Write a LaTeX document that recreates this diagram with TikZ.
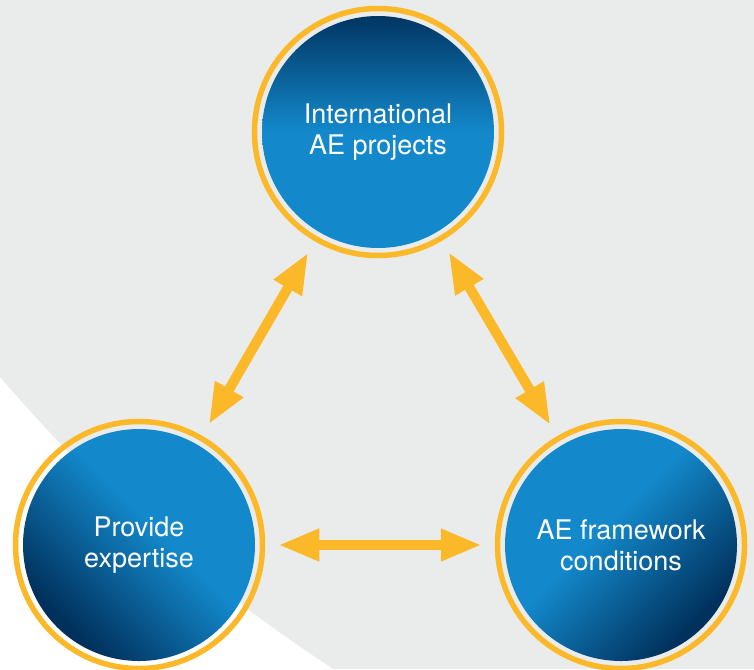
\documentclass[tikz,border=0pt]{standalone}
\usepackage{fontspec}
\setmainfont{TeX Gyre Heros}
\usetikzlibrary{arrows.meta}
\definecolor{bggray}{HTML}{EAECEB}
\definecolor{ringorange}{HTML}{FBB829}
\definecolor{brightblue}{HTML}{1389CB}
\definecolor{darkblue}{HTML}{00305C}
\pgfdeclareverticalshading{discshade}{100bp}{color(0bp)=(brightblue); color(50bp)=(brightblue); color(75bp)=(darkblue); color(100bp)=(darkblue)}
\pgfdeclareverticalshading{diagshade}{100bp}{color(0bp)=(brightblue); color(45bp)=(brightblue); color(72bp)=(darkblue); color(100bp)=(darkblue)}
\tikzset{
  hub/.style={circle, minimum size=247pt, inner sep=0pt, draw=ringorange, line width=5.5pt,
    text=white, align=center, font=\fontsize{27}{31}\selectfont},
  disc/.style 2 args={path picture={\shade[shading=#1, shading angle=#2]
    (path picture bounding box.center) circle (116pt);}},
  biarrow/.style={draw=ringorange, line width=10pt,
    {Triangle[length=41pt,width=30pt]}-{Triangle[length=41pt,width=30pt]},
    shorten <=13pt, shorten >=13pt}
}
\begin{document}
\begin{tikzpicture}[x=1pt,y=-1pt]
\useasboundingbox (0,0) rectangle (754,669);
\fill[bggray] (0,0) rectangle (754,669);
\fill[white] (0,377) .. controls (111,507) and (222,596) .. (333,669) -- (0,669) -- cycle;
\node[hub, disc={discshade}{0}] (top) at (378,132) {International\\AE projects};
\node[hub, disc={diagshade}{135}] (bl) at (139,545) {Provide\\expertise};
\node[hub, disc={diagshade}{-135}] (br) at (621,545) {AE framework\\conditions};
\draw[biarrow] (top) -- (bl);
\draw[biarrow] (top) -- (br);
\draw[biarrow] (bl) -- (br);
\end{tikzpicture}
\end{document}
